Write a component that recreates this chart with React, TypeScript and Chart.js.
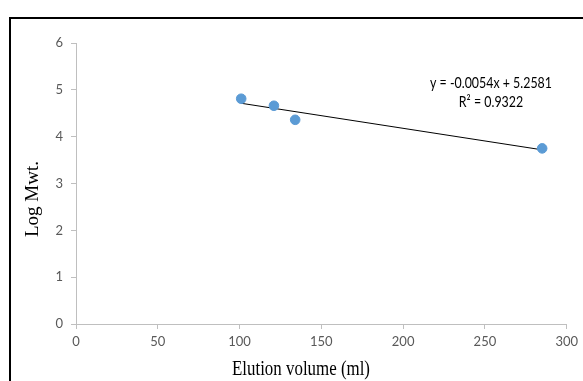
import React, { useEffect, useRef } from "react";
import { Chart, registerables } from "chart.js";

Chart.register(...registerables);

const elutionVolume = [101, 121, 134, 285];
const logMwt = [4.81, 4.66, 4.36, 3.75];
const trendX = [101, 285];
const trendY = [4.713, 3.719];
const equationLines = ["y = -0.0054x + 5.2581", "R² = 0.9322"];
const xTitle = "Elution volume (ml)";
const yTitle = "Log Mwt.";

const framePlugin = {
  id: "frameAndText",
  beforeDraw(chart: any) {
    const ctx = chart.ctx;
    ctx.save();
    ctx.fillStyle = "#ffffff";
    ctx.fillRect(0, 0, chart.width, chart.height);
    ctx.fillStyle = "#000000";
    ctx.fillRect(9, 17, 2, chart.height);
    ctx.fillRect(9, 17, chart.width, 2);
    ctx.restore();
  },
  afterDraw(chart: any) {
    const ctx = chart.ctx;
    ctx.save();
    ctx.fillStyle = "#000000";
    ctx.textAlign = "center";
    ctx.textBaseline = "middle";
    ctx.font = "20px 'Liberation Serif'";
    const w = ctx.measureText(xTitle).width;
    ctx.translate(301, 370);
    ctx.scale(138 / w, 1);
    ctx.fillText(xTitle, 0, 0);
    ctx.restore();
    ctx.save();
    ctx.fillStyle = "#000000";
    ctx.textAlign = "center";
    ctx.textBaseline = "middle";
    ctx.font = "19px 'Liberation Serif'";
    ctx.translate(33, 199);
    ctx.rotate(-Math.PI / 2);
    ctx.fillText(yTitle, 0, 0);
    ctx.restore();
    ctx.save();
    ctx.fillStyle = "#000000";
    ctx.textAlign = "center";
    ctx.textBaseline = "middle";
    ctx.font = "15px Lato";
    const ew = ctx.measureText(equationLines[0]).width;
    const sx = 122 / ew;
    ctx.translate(491, 0);
    ctx.scale(sx, 1);
    ctx.fillText(equationLines[0], 0, 83);
    ctx.fillText(equationLines[1], 0, 102);
    ctx.restore();
  },
};

export default function App() {
  const ref = useRef<HTMLCanvasElement>(null);
  useEffect(() => {
    document.body.style.margin = "0";
    const chart = new Chart(ref.current!, {
      type: "scatter",
      data: {
        datasets: [
          {
            label: "Log Mwt.",
            data: elutionVolume.map((x, i) => ({ x, y: logMwt[i] })),
            backgroundColor: "#5b9bd5",
            borderColor: "#5b9bd5",
            pointRadius: 4.8,
            order: 1,
          },
          {
            label: "Linear trend",
            type: "line",
            data: trendX.map((x, i) => ({ x, y: trendY[i] })),
            borderColor: "#000000",
            borderWidth: 1,
            pointRadius: 0,
            fill: false,
            order: 2,
          } as any,
        ],
      },
      options: {
        responsive: false,
        animation: false,
        layout: { padding: { left: 0, right: 12, top: 43, bottom: 0 } },
        plugins: { legend: { display: false }, tooltip: { enabled: false } },
        scales: {
          x: {
            type: "linear",
            min: 0,
            max: 300,
            ticks: { stepSize: 50, color: "#595959", font: { family: "Lato", size: 13 }, padding: 5 },
            grid: { display: true, drawOnChartArea: false, drawTicks: true, tickLength: 5, color: "#bfbfbf" },
            border: { color: "#bfbfbf", width: 1 },
            afterFit(scale: any) {
              scale.height = 57;
            },
          },
          y: {
            type: "linear",
            min: 0,
            max: 6,
            ticks: { stepSize: 1, color: "#595959", font: { family: "Lato", size: 13 }, padding: 8 },
            grid: { display: true, drawOnChartArea: false, drawTicks: true, tickLength: 5, color: "#bfbfbf" },
            border: { color: "#bfbfbf", width: 1 },
            afterFit(scale: any) {
              scale.width = 76;
            },
          },
        },
      },
      plugins: [framePlugin],
    });
    return () => chart.destroy();
  }, []);
  return <canvas ref={ref} width={583} height={381} style={{ display: "block" }} />;
}
